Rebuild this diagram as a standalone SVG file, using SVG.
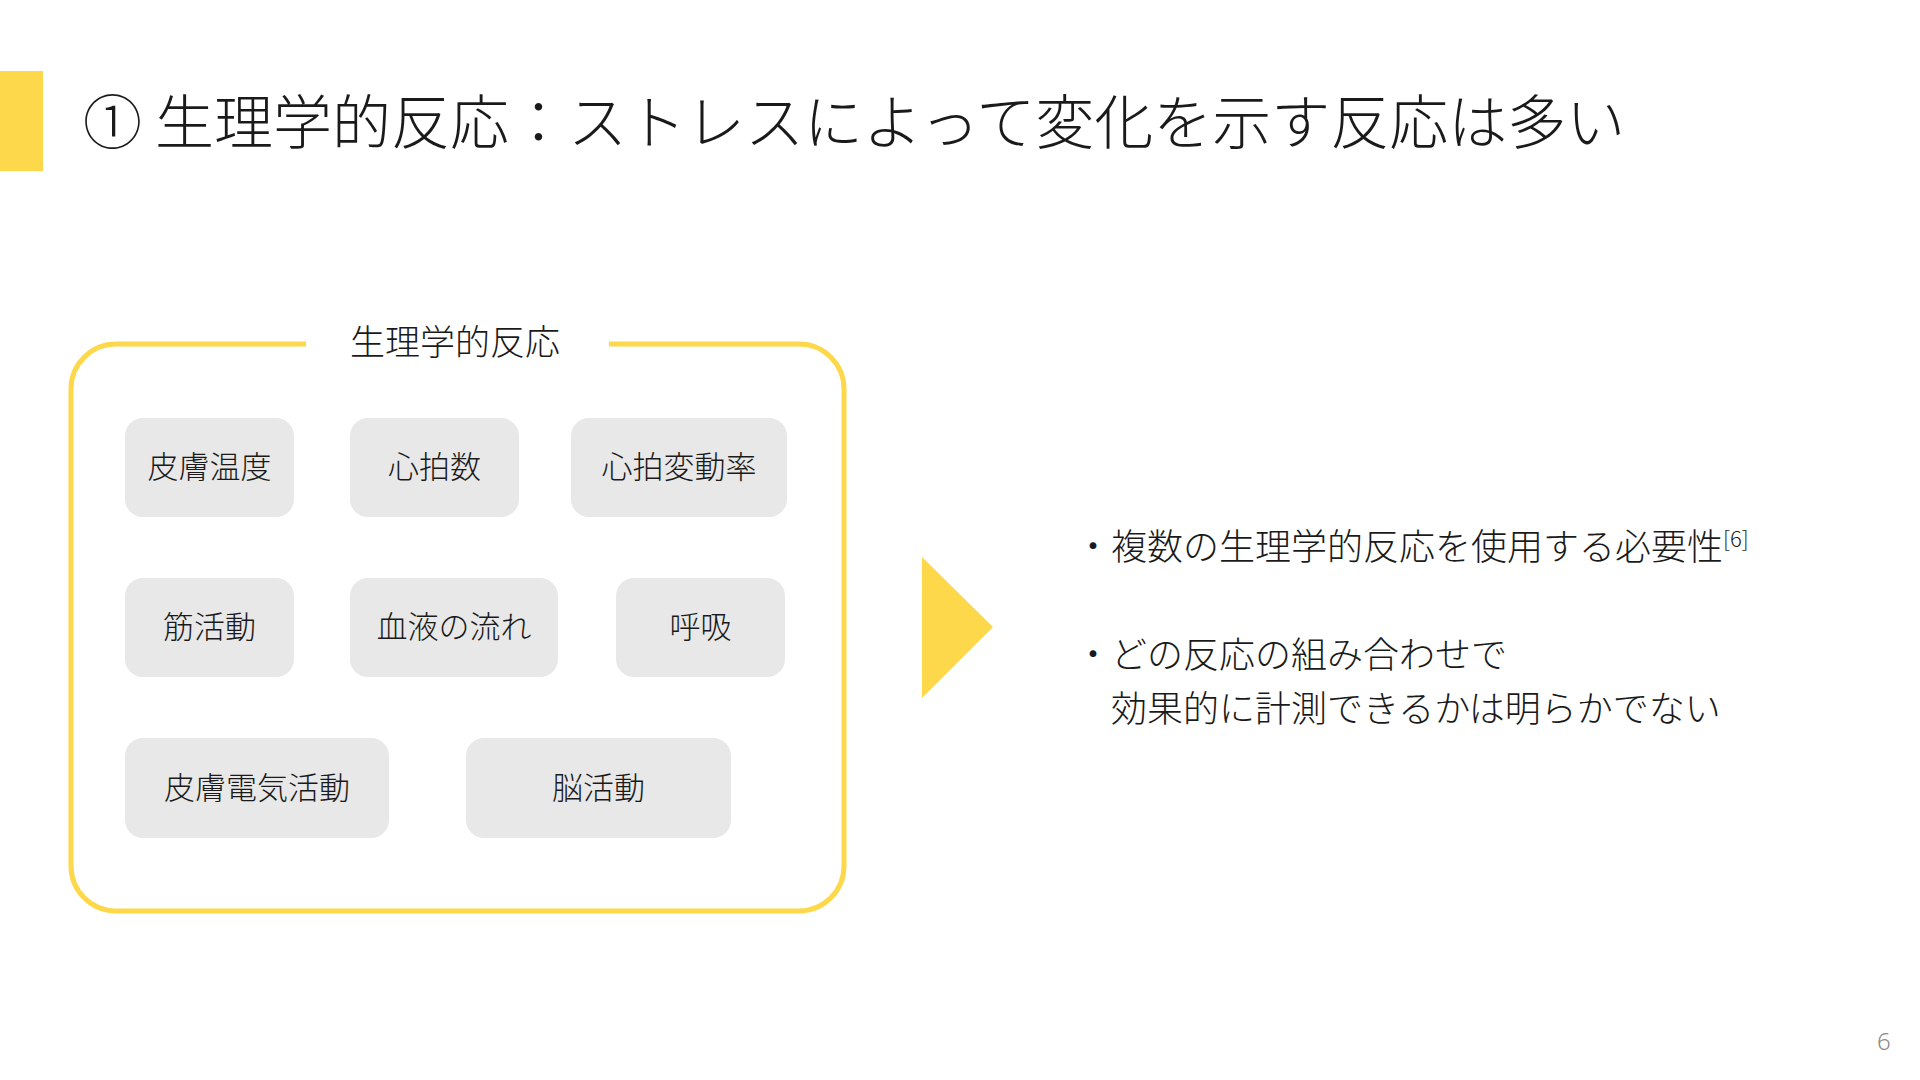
<svg xmlns="http://www.w3.org/2000/svg" width="1920" height="1080" viewBox="0 0 1920 1080">
<style>
text{font-family:"Noto Sans CJK JP","Noto Sans CJK SC",sans-serif;fill:#1a1a1a;font-weight:300}
.title{font-size:59px}
.lbl{font-size:31px;text-anchor:middle}
.grp{font-size:35px;text-anchor:middle}
.body{font-size:36px}
.node rect{fill:#e8e8e8}
.yl{fill:#fcd84a}
</style>
<rect width="1920" height="1080" fill="#ffffff"/>
<rect class="yl" x="0" y="71" width="43" height="100"/>
<text class="title" x="83" y="144">① 生理学的反応：ストレスによって変化を示す反応は多い</text>

<g id="group-box">
<path d="M306,344 H116 A45,45 0 0 0 71,389 V866 A45,45 0 0 0 116,911 H799 A45,45 0 0 0 844,866 V389 A45,45 0 0 0 799,344 H609" fill="none" stroke="#fcd84a" stroke-width="5"/>
<text class="grp" x="455" y="355">生理学的反応</text>
</g>

<g id="n1" class="node"><rect x="125" y="418" width="169" height="99" rx="18"/><text class="lbl" x="209.5" y="478">皮膚温度</text></g>
<g id="n2" class="node"><rect x="350" y="418" width="169" height="99" rx="18"/><text class="lbl" x="434.5" y="478">心拍数</text></g>
<g id="n3" class="node"><rect x="571" y="418" width="216" height="99" rx="18"/><text class="lbl" x="679" y="478">心拍変動率</text></g>
<g id="n4" class="node"><rect x="125" y="578" width="169" height="99" rx="18"/><text class="lbl" x="209.5" y="638">筋活動</text></g>
<g id="n5" class="node"><rect x="350" y="578" width="208" height="99" rx="18"/><text class="lbl" x="454" y="638">血液の流れ</text></g>
<g id="n6" class="node"><rect x="616" y="578" width="169" height="99" rx="18"/><text class="lbl" x="700.5" y="638">呼吸</text></g>
<g id="n7" class="node"><rect x="125" y="738" width="264" height="100" rx="18"/><text class="lbl" x="257" y="799">皮膚電気活動</text></g>
<g id="n8" class="node"><rect x="466" y="738" width="265" height="100" rx="18"/><text class="lbl" x="598.5" y="799">脳活動</text></g>

<g id="connectors">
<polygon class="yl" points="922,557 993,627 922,698"/>
</g>

<g id="bullets">
<text class="body" x="1075" y="560">・複数の生理学的反応を使用する必要性<tspan font-size="22" dy="-13">[6]</tspan></text>
<text class="body" x="1075" y="668">・どの反応の組み合わせで</text>
<text class="body" x="1111" y="722">効果的に計測できるかは明らかでない</text>
</g>

<text x="1877" y="1050" font-size="24" style="fill:#888888;font-family:'Noto Sans',sans-serif">6</text>
</svg>
